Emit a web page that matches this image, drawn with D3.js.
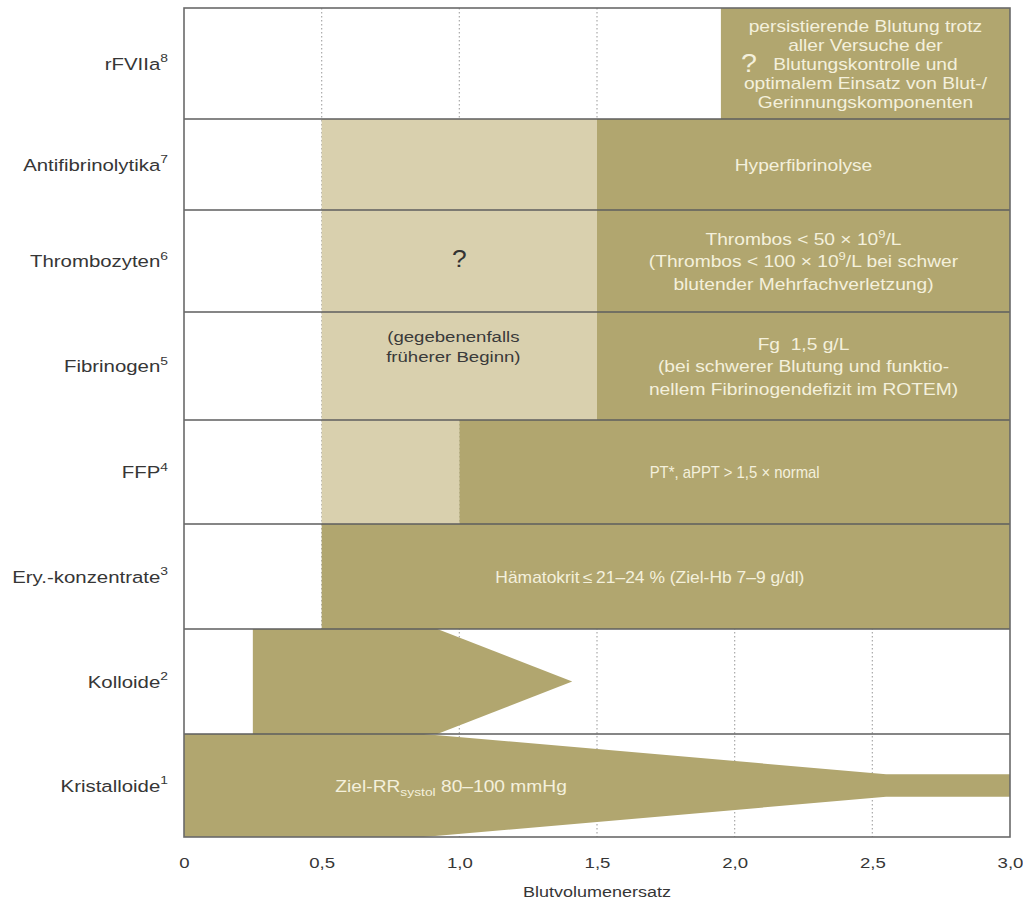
<!DOCTYPE html>
<html><head><meta charset="utf-8">
<script src="https://cdn.jsdelivr.net/npm/d3@7"></script>
<style>
body{margin:0;background:#fff}
svg{display:block}
text{font-family:"Liberation Sans",Arial,Helvetica,sans-serif}
</style>
</head><body>
<svg id="chart" width="1023" height="903"></svg>
<script>
// ---------- data ----------
const categories = ["rFVIIa","Antifibrinolytika","Thrombozyten","Fibrinogen","FFP","Ery.-konzentrate","Kolloide","Kristalloide"];
const footnotes  = ["8","7","6","5","4","3","2","1"];

const xTicks      = [0, 0.5, 1.0, 1.5, 2.0, 2.5, 3.0];
const xTickLabels = ["0","0,5","1,0","1,5","2,0","2,5","3,0"];
const gridValues  = [0.5, 1.0, 1.5, 2.0, 2.5];
const xTitle = "Blutvolumenersatz";

// light (optional / "?") zones
const lightCats  = ["Antifibrinolytika","Thrombozyten","Fibrinogen","FFP"];
const lightStart = [0.5, 0.5, 0.5, 0.5];
const lightEnd   = [1.5, 1.5, 1.5, 1.0];

// dark (indicated) zones
const darkCats  = ["rFVIIa","Antifibrinolytika","Thrombozyten","Fibrinogen","FFP","Ery.-konzentrate"];
const darkStart = [1.95, 1.5, 1.5, 1.5, 1.0, 0.5];
const darkEnd   = [3.0, 3.0, 3.0, 3.0, 3.0, 3.0];

// tapered shapes (x in Blutvolumenersatz, relative half-height 0..1)
const kolloideX    = [0.25, 0.92, 1.41];
const kolloideHalf = [1, 1, 0];
const kristalloideX    = [0, 0.87, 2.55, 3.0];
const kristalloideHalf = [1, 1, 0.22, 0.22];

// texts inside dark zones
const darkTexts = [
  ["persistierende Blutung trotz","aller Versuche der","Blutungskontrolle und","optimalem Einsatz von Blut-/","Gerinnungskomponenten"],
  ["Hyperfibrinolyse"],
  ["Thrombos < 50 × 10^{9}/L","(Thrombos < 100 × 10^{9}/L bei schwer","blutender Mehrfachverletzung)"],
  ["Fg\u00a0\u00a01,5 g/L","(bei schwerer Blutung und funktio-","nellem Fibrinogendefizit im ROTEM)"],
  ["PT*, aPPT > 1,5 × normal"],
  ["Hämatokrit\u2009≤\u200921–24 % (Ziel-Hb 7–9 g/dl)"]
];
const kristalloideText = "Ziel-RR_{systol} 80–100 mmHg";
const fibrinogenLightText = ["(gegebenenfalls","früherer Beginn)"];
const questionMark = "?";

// ---------- layout ----------
const M = {left:184, right:1010, top:8, bottom:837};
const ROW_WEIGHTS = [111, 91, 102, 108, 104, 105, 105, 103]; // relative row heights as drawn
const DARK = "#b1a66f", LIGHT = "#d9d0ae", TXT_LIGHT = "#f4f0dc", LINE = "#5e5e5e", LABEL = "#363636";
const SX = 1.2; // horizontal text stretch as in reference

const svg = d3.select("#chart");
const x = d3.scaleLinear().domain([0, 3]).range([M.left, M.right]);
const wsum = d3.sum(ROW_WEIGHTS);
const ycum = d3.scaleLinear().domain([0, wsum]).range([M.top, M.bottom]);
const tops = d3.cumsum([0, ...ROW_WEIGHTS]);
const y  = c => ycum(tops[categories.indexOf(c)]);
const bh = c => ycum(tops[categories.indexOf(c) + 1]) - y(c);

function rich(t, str, fs) {
  const parts = str.split(/(\^\{[^}]*\}|_\{[^}]*\})/).filter(p => p !== "");
  let cur = 0;
  parts.forEach(p => {
    let target = 0, size = fs, s = p;
    if (p.startsWith("^{")) { target = -fs*0.42; size = fs*0.68; s = p.slice(2,-1); }
    else if (p.startsWith("_{")) { target = fs*0.28; size = fs*0.72; s = p.slice(2,-1); }
    t.append("tspan").attr("dy", target - cur).attr("font-size", size).text(s);
    cur = target;
  });
}
function stext(g, px, py, str, fs, fill, anchor, sx) {
  const t = g.append("text")
    .attr("transform", `translate(${px},${py}) scale(${sx||SX},1)`)
    .attr("text-anchor", anchor || "middle")
    .attr("fill", fill)
    .attr("font-size", fs);
  rich(t, str, fs);
  return t;
}

// gridlines
svg.append("g").selectAll("line").data(gridValues).join("line")
  .attr("x1", d => x(d)).attr("x2", d => x(d))
  .attr("y1", M.top).attr("y2", M.bottom)
  .attr("stroke", "#a9a9a9").attr("stroke-width", 1.2)
  .attr("stroke-dasharray", "1.5,2.5");

// light zones
svg.append("g").selectAll("rect").data(lightCats).join("rect")
  .attr("x", (d,i) => x(lightStart[i]))
  .attr("width", (d,i) => x(lightEnd[i]) - x(lightStart[i]))
  .attr("y", d => y(d)).attr("height", d => bh(d))
  .attr("fill", LIGHT);

// dark zones
svg.append("g").selectAll("rect").data(darkCats).join("rect")
  .attr("x", (d,i) => x(darkStart[i]))
  .attr("width", (d,i) => x(darkEnd[i]) - x(darkStart[i]))
  .attr("y", d => y(d)).attr("height", d => bh(d))
  .attr("fill", DARK);

// tapered shapes
function taper(cat, xs, hs) {
  const yc = y(cat) + bh(cat)/2;
  const rel = d3.scaleLinear().domain([0, 1]).range([0, bh(cat)/2]);
  const pts = xs.map((v,i) => ({x:v, h:hs[i]}));
  const area = d3.area()
    .x(d => x(d.x))
    .y0(d => yc + rel(d.h))
    .y1(d => yc - rel(d.h));
  svg.append("path").datum(pts).attr("d", area).attr("fill", DARK);
}
taper("Kolloide", kolloideX, kolloideHalf);
taper("Kristalloide", kristalloideX, kristalloideHalf);

// row separators and frame
svg.append("g").selectAll("line").data(categories.slice(1)).join("line")
  .attr("x1", M.left).attr("x2", M.right)
  .attr("y1", d => y(d)).attr("y2", d => y(d))
  .attr("stroke", LINE).attr("stroke-width", 1.6);
svg.append("rect")
  .attr("x", M.left).attr("y", M.top)
  .attr("width", M.right - M.left).attr("height", M.bottom - M.top)
  .attr("fill", "none").attr("stroke", "#6a6a6a").attr("stroke-width", 1.6);

// texts in dark zones
const tg = svg.append("g");
const darkFont = [16, 16, 16, 16, 16, 16];
const darkSX   = [SX, SX, SX, SX, 0.93, 1.09];
darkCats.forEach((c,i) => {
  const lines = darkTexts[i];
  const lh = c === "rFVIIa" ? 19 : 22.5;
  let cx = x((darkStart[i] + darkEnd[i]) / 2);
  if (c === "Ery.-konzentrate") cx -= 16;
  const cy = y(c) + bh(c)/2;
  lines.forEach((ln, j) => {
    const py = cy + (j - (lines.length-1)/2) * lh + 6;
    stext(tg, cx, py, ln, darkFont[i], TXT_LIGHT, "middle", darkSX[i]);
  });
});
// "?" in rFVIIa
stext(tg, x(darkStart[0]) + 28, y("rFVIIa") + bh("rFVIIa")/2 + 8, questionMark, 26, TXT_LIGHT, "middle", 1.1);
// "?" in Thrombozyten light zone
stext(tg, x((lightStart[1] + lightEnd[1]) / 2), y("Thrombozyten") + bh("Thrombozyten")/2 + 6, questionMark, 24, "#333", "middle", 1.1);
// Fibrinogen light zone note
fibrinogenLightText.forEach((ln, j) => {
  stext(tg, x((lightStart[2] + lightEnd[2]) / 2) - 6, y("Fibrinogen") + 30 + j*20, ln, 15.5, "#3a3a3a");
});
// Kristalloide text
stext(tg, x(0.97), y("Kristalloide") + bh("Kristalloide")/2 + 6, kristalloideText, 16, TXT_LIGHT);

// category labels
const lg = svg.append("g");
categories.forEach((c,i) => {
  stext(lg, M.left - 16, y(c) + bh(c)/2 + 6, c + "^{" + footnotes[i] + "}", 17, LABEL, "end");
});

// x axis
const axis = d3.axisBottom(x).tickValues(xTicks).tickFormat((d,i) => xTickLabels[i]).tickSize(0).tickPadding(0);
const ag = svg.append("g").attr("transform", `translate(0,${M.bottom})`).call(axis);
ag.select(".domain").remove();
ag.selectAll("text")
  .attr("font-size", 15.5).attr("fill", LABEL)
  .attr("font-family", '"Liberation Sans",Arial,sans-serif')
  .attr("dy", 0).attr("x", 0).attr("y", 0)
  .attr("transform", `translate(0,${868 - M.bottom}) scale(${SX},1)`);
stext(svg, (M.left + M.right)/2, 897, xTitle, 15, LABEL);
</script>
</body></html>
